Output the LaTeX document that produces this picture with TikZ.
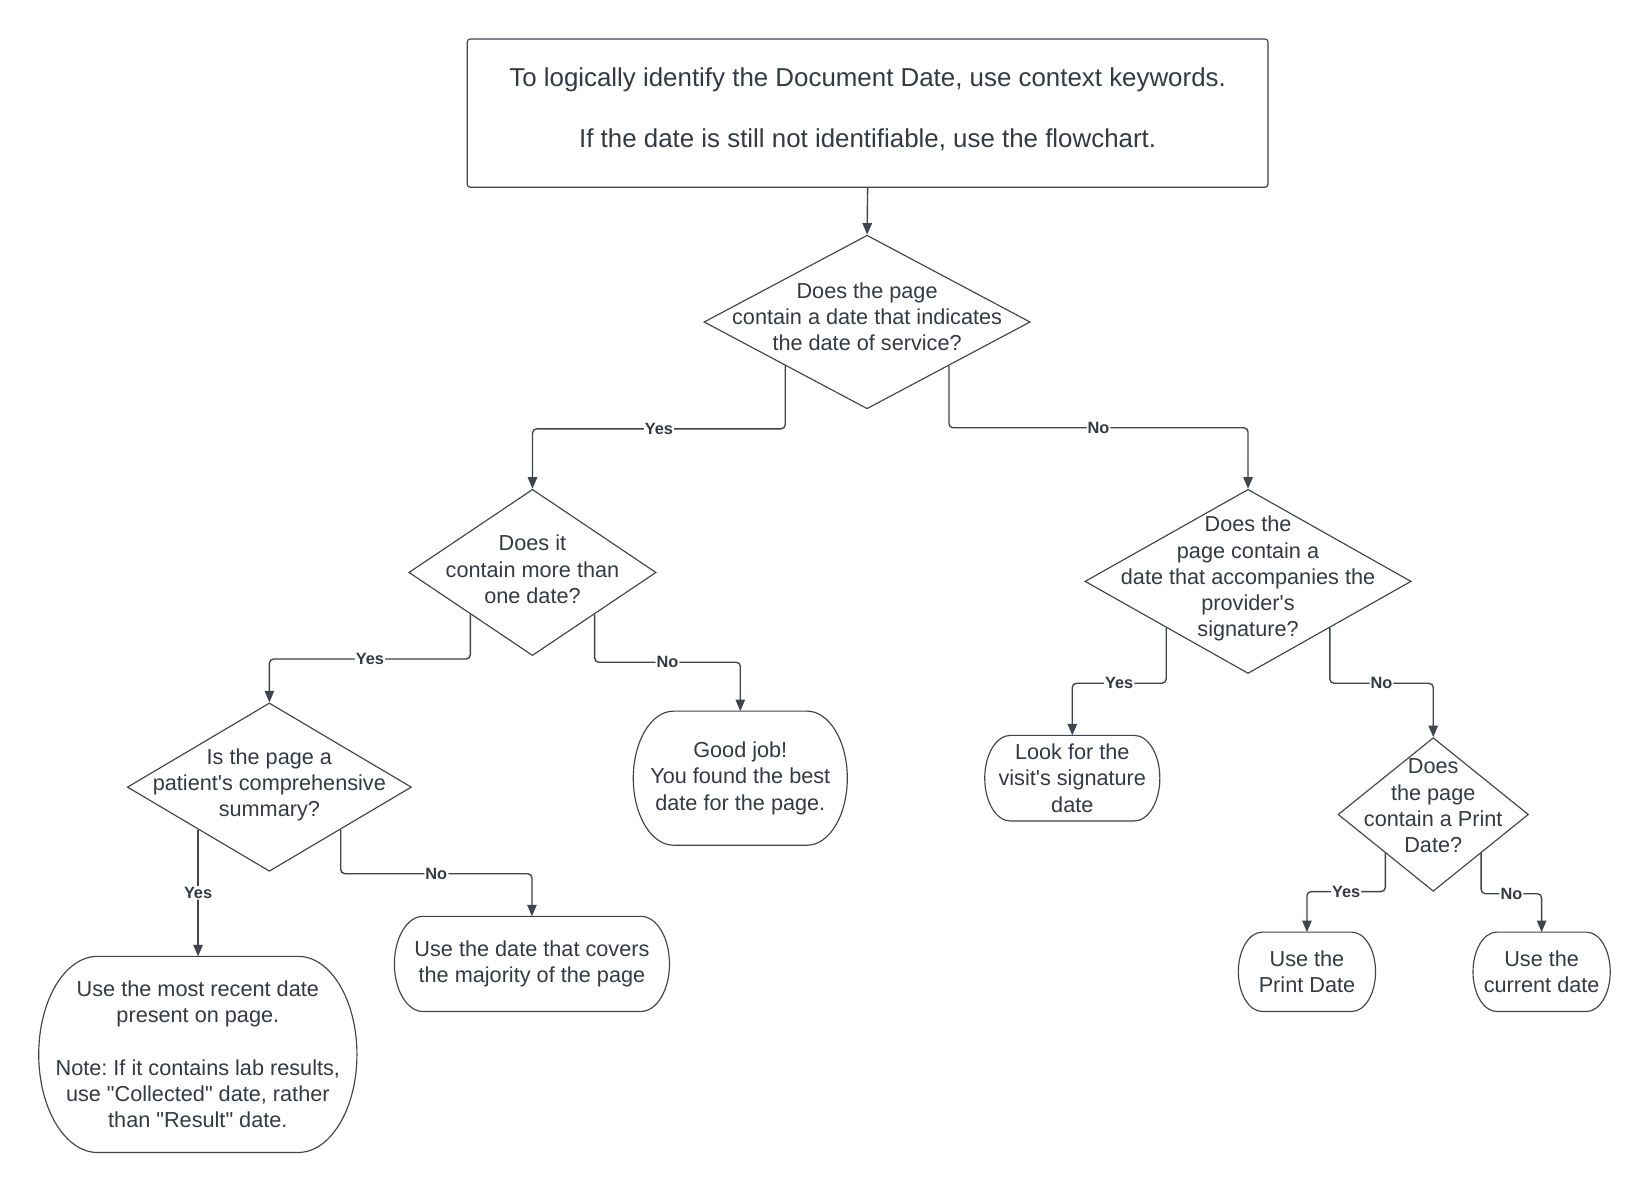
\documentclass[tikz,border=0pt]{standalone}
\usepackage{fontspec}
\setmainfont{Liberation Sans}[Ligatures=TeXOff]
\frenchspacing
\usetikzlibrary{shapes.geometric,arrows.meta,calc}
\definecolor{ink}{HTML}{333A45}
\definecolor{wire}{HTML}{3F4550}
\tikzset{
  txt/.style={font=\fontsize{20.6}{25}\selectfont, text=ink, align=center, inner sep=0pt},
  dia/.style={shape=diamond, draw=wire, line width=1.1pt, inner sep=0pt},
  term/.style={draw=none, inner sep=0pt, txt},
  outline/.style={draw=wire, line width=1.1pt},
  conn/.style={draw=wire, line width=1.3pt, rounded corners=4pt, -{Triangle[length=11pt,width=9pt]}},
  lab/.style={font=\bfseries\fontsize{15.5}{18}\selectfont, text=ink, fill=white, inner sep=1pt},
}
\newcommand\termshape[1]{%
  \draw[outline] let \p1=(#1.north west), \p2=(#1.south east),
     \n1={0.3*(\y1-\y2)}, \n2={0.5*(\y1-\y2)} in
     (\x1+\n1,\y1) -- (\x2-\n1,\y1)
     arc[start angle=90, end angle=-90, x radius=\n1, y radius=\n2]
     -- (\x1+\n1,\y2)
     arc[start angle=270, end angle=90, x radius=\n1, y radius=\n2] -- cycle;}
\begin{document}
\begin{tikzpicture}[x=1pt,y=-1pt]
\useasboundingbox[fill=white] (0,0) rectangle (1568,1133);

% top box
\node[draw=wire, line width=1.1pt, rounded corners=3pt, minimum width=761pt, minimum height=141pt, inner sep=0pt] (top) at (824.5,107.5) {};
\node[txt, font=\fontsize{24.6}{29}\selectfont] (toptext) at (824.5,104)
  {To logically identify the Document Date, use context keywords.\\[29pt]If the date is still not identifiable, use the flowchart.};

% diamonds
\node[dia, minimum width=310pt, minimum height=165pt] (d1) at (824,306) {};
\node[txt] (d1t) at (824,301) {Does the page\\contain a date that indicates\\the date of service?};
\node[dia, minimum width=235pt, minimum height=158pt] (d2) at (506,544) {};
\node[txt] (d2t) at (506,541) {Does it\\contain more than\\one date?};
\node[dia, minimum width=310pt, minimum height=175pt] (d3) at (1186,552.5) {};
\node[txt] (d3t) at (1186,550) {Does the\\page contain a\\date that accompanies the\\provider's\\signature?};
\node[dia, minimum width=270pt, minimum height=160pt] (d4) at (256,748) {};
\node[txt] (d4t) at (256,746) {Is the page a\\patient's comprehensive\\summary?};
\node[dia, minimum width=181pt, minimum height=146pt] (d5) at (1362,774) {};
\node[txt] (d5t) at (1362,766) {Does\\the page\\contain a Print\\Date?};

% terminals
\node[term, minimum width=203pt, minimum height=127pt] (good) at (703.5,739.5) {Good job!\\You found the best\\date for the page.};
\node[term, minimum width=261pt, minimum height=90pt] (major) at (505.5,916) {Use the date that covers\\the majority of the page};
\node[term, minimum width=302pt, minimum height=186pt] (recent) at (188,1002) {Use the most recent date\\present on page.\\[25pt]Note: If it contains lab results,\\use "Collected" date, rather\\than "Result" date.};
\node[term, minimum width=166pt, minimum height=81pt] (visit) at (1019,739.5) {Look for the\\visit's signature\\date};
\node[term, minimum width=130pt, minimum height=75pt] (print) at (1242,923.5) {Use the\\Print Date};
\node[term, minimum width=130pt, minimum height=75pt] (current) at (1465,923.5) {Use the\\current date};
\termshape{good}
\termshape{major}
\termshape{recent}
\termshape{visit}
\termshape{print}
\termshape{current}

% connectors
\draw[conn] (top.south) -- (d1.north);
\draw[conn] ($(d1.west)!0.5!(d1.south)$) -- ++(0,60) -| node[pos=0.25,lab]{Yes} (d2.north);
\draw[conn] ($(d1.south)!0.5!(d1.east)$) -- ++(0,59) -| node[pos=0.25,lab]{No} (d3.north);
\draw[conn] ($(d2.west)!0.5!(d2.south)$) -- ++(0,42.5) -| node[pos=0.25,lab]{Yes} (d4.north);
\draw[conn] ($(d2.south)!0.5!(d2.east)$) -- ++(0,45.5) -| node[pos=0.25,lab]{No} (good.north);
\draw[conn] ($(d4.west)!0.5!(d4.south)$) coordinate (d4y) -- node[lab]{Yes} (d4y |- recent.north);
\draw[conn] ($(d4.south)!0.5!(d4.east)$) -- ++(0,42) -| node[pos=0.25,lab]{No} (major.north);
\draw[conn] ($(d3.west)!0.5!(d3.south)$) -- ++(0,52.75) -| node[pos=0.25,lab]{Yes} (visit.north);
\draw[conn] ($(d3.south)!0.5!(d3.east)$) -- ++(0,52.75) -| node[pos=0.25,lab]{No} (d5.north);
\draw[conn] ($(d5.west)!0.5!(d5.south)$) -- ++(0,36.5) -| node[pos=0.25,lab]{Yes} (print.north);
\draw[conn] ($(d5.south)!0.5!(d5.east)$) -- ++(0,38.5) -| node[pos=0.25,lab]{No} (current.north);
\end{tikzpicture}
\end{document}
